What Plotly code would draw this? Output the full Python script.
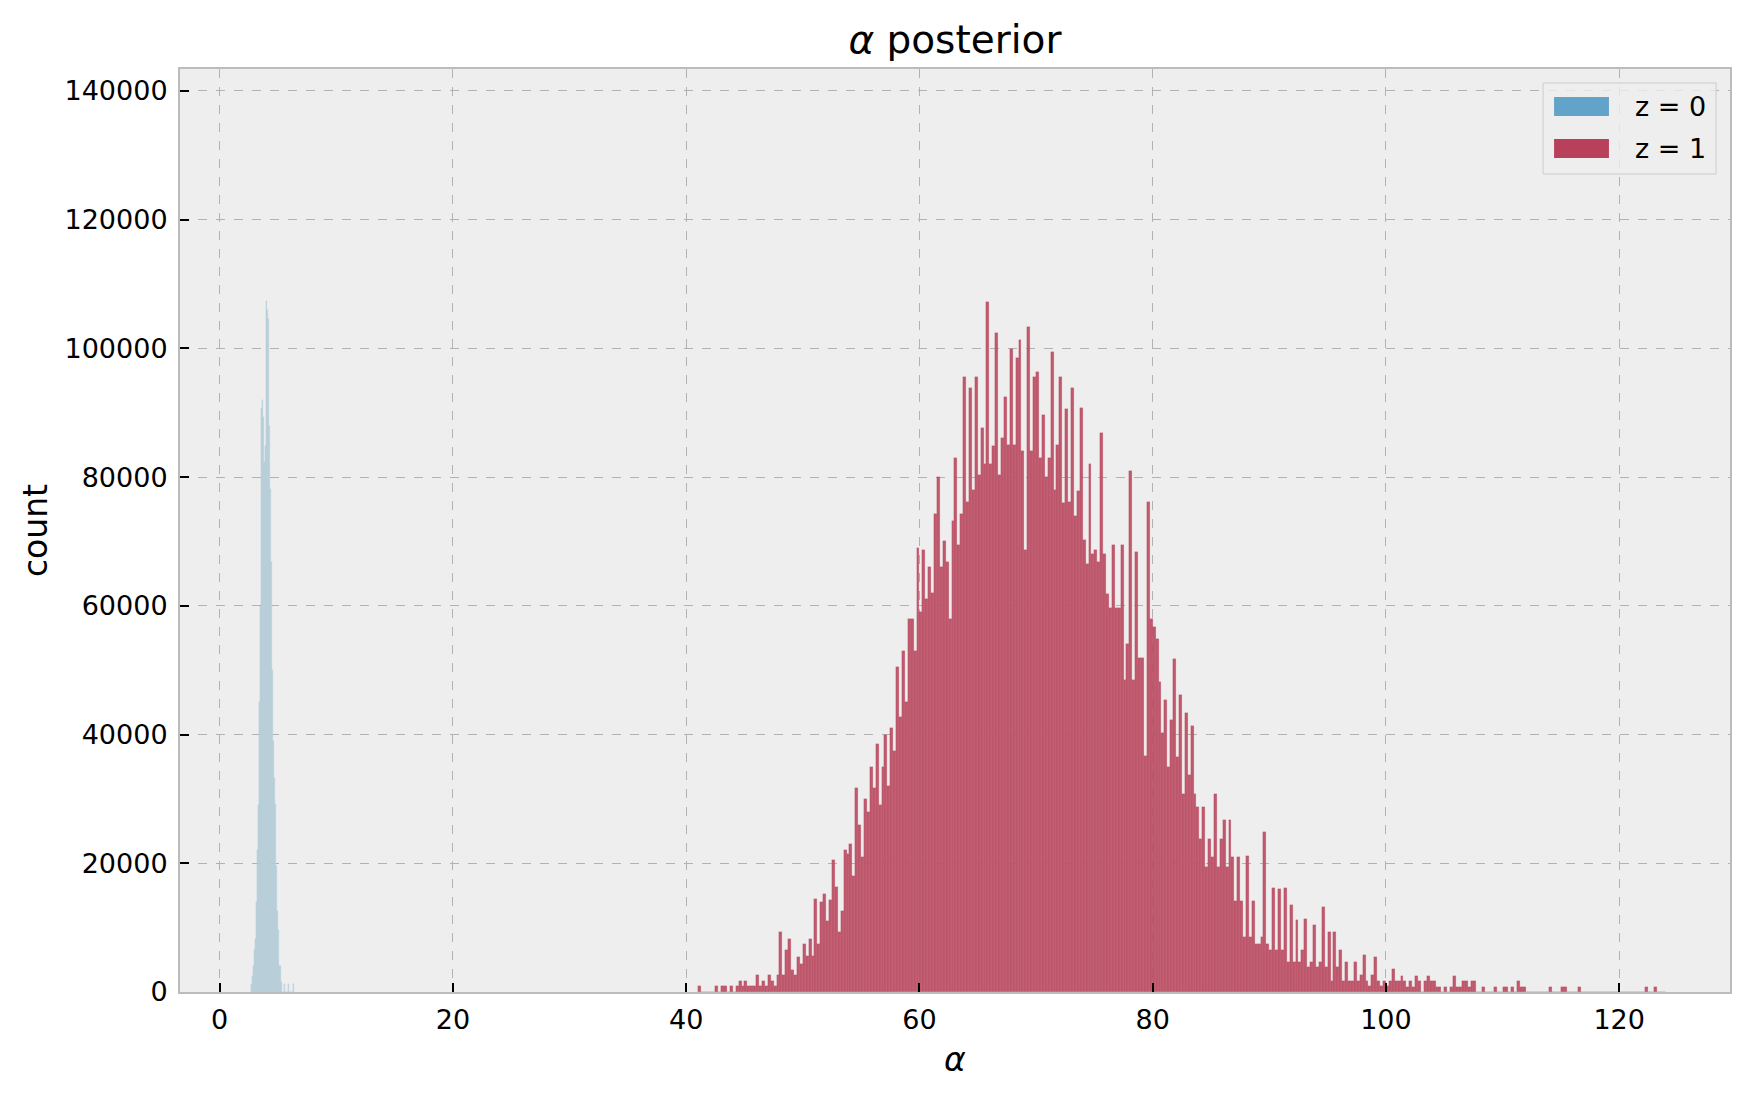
import plotly.graph_objects as go

# z = 0 : narrow histogram, bins of ~0.086 starting at 2.65
blue_bin_start = 2.65
blue_bin_width = 0.0858
blue_counts = [
    1200, 2500, 4000, 6500, 8300, 14000, 22000, 29000, 45000, 60000,
    90700, 92000, 89400, 82400, 84900, 107400, 106000, 104600, 88000, 78200,
    66800, 50100, 39000, 33300, 29200, 19500, 12600, 9700, 4000, 4000,
    1600, 0, 0, 1200, 0, 0, 0, 1200, 0, 0,
    0, 0, 1200,
]

# z = 1 : wide histogram, bins of 0.25 starting at 41.0 (one row = one unit)
red_bin_start = 41.0
red_bin_width = 0.25
red_counts = [
    900, 0, 0, 0,             # 41
    0, 0, 900, 0,             # 42
    900, 900, 0, 900,         # 43
    0, 900, 1700, 900,        # 44
    1700, 900, 900, 900,      # 45
    2600, 900, 1700, 900,     # 46
    2600, 1700, 900, 2600,    # 47
    9400, 2600, 6500, 8300,   # 48
    3400, 2600, 5500, 4300,   # 49
    7400, 5600, 8300, 5600,   # 50
    14500, 7400, 14000, 15300,   # 51
    11000, 14300, 20500, 16300,  # 52
    9300, 12600, 22000, 21500,   # 53
    23000, 18000, 31700, 26000,  # 54
    21000, 30000, 28000, 35000,  # 55
    31700, 38500, 29000, 35000,  # 56
    40000, 32000, 41000, 37500,  # 57
    50500, 42800, 53000, 45000,  # 58
    57900, 57900, 53000, 69000,  # 59
    59000, 68600, 61000, 66000,  # 60
    62000, 74300, 80000, 66000,  # 61
    70000, 66800, 58000, 73200,  # 62
    82900, 69400, 74300, 95500,  # 63
    76200, 93800, 78000, 95500,  # 64
    80300, 87700, 82000, 107200,  # 65
    82000, 84900, 102400, 80300,  # 66
    86000, 92500, 85000, 99900,   # 67
    85000, 98500, 101300, 84000,  # 68
    68600, 103300, 84000, 95500,  # 69
    96400, 83000, 89600, 80000,   # 70
    83000, 99400, 78000, 85000,   # 71
    95500, 76000, 90600, 76200,   # 72
    93800, 74000, 77800, 90700,   # 73
    70300, 66500, 82100, 68000,   # 74
    68600, 66800, 86800, 68000,   # 75
    61800, 59700, 69400, 59700,   # 76
    59700, 69400, 48400, 54000,   # 77
    81000, 48400, 68400, 51900,   # 78
    51900, 36700, 76200, 57900,   # 79
    56700, 54800, 48200, 40200,   # 80
    45300, 35000, 42200, 51800,   # 81
    36500, 46100, 30800, 43300,   # 82
    33700, 41300, 30800, 28800,   # 83
    23800, 28800, 19400, 23800,   # 84
    21000, 30800, 19400, 23800,   # 85
    26800, 19400, 26800, 21000,   # 86
    14200, 21000, 14200, 8500,    # 87
    21100, 8500, 14200, 7500,     # 88
    7500, 8500, 24900, 7500,      # 89
    6500, 16200, 6500, 16000,     # 90
    6500, 16200, 4700, 13500,     # 91
    4700, 11200, 4700, 6500,      # 92
    11400, 3900, 4700, 10400,     # 93
    3900, 4700, 13200, 3900,      # 94
    9400, 1700, 9400, 3900,       # 95
    6500, 1700, 4700, 1700,       # 96
    1700, 4700, 1700, 2600,       # 97
    5700, 1700, 900, 2600,        # 98
    5500, 1700, 900, 1700,        # 99
    900, 1700, 3600, 1700,        # 100
    1700, 2550, 1700, 850,        # 101
    1700, 850, 2550, 1700,        # 102
    0, 1700, 2550, 1700,          # 103
    1700, 850, 850, 0,            # 104
    850, 0, 850, 2550,            # 105
    850, 850, 1700, 1700,         # 106
    850, 1700, 1700, 0,           # 107
    0, 850, 0, 0,                 # 108
    0, 850, 0, 0,                 # 109
    850, 850, 0, 850,             # 110
    0, 1700, 850, 850,            # 111
    0, 0, 0, 0,                   # 112
    0, 0, 0, 0,                   # 113
    850, 0, 0, 0,                 # 114
    850, 850, 0, 0,               # 115
    0, 0, 850, 0,                 # 116
    0, 0, 0, 0,                   # 117
    0, 0, 0, 0,                   # 118
    0, 0, 0, 0,                   # 119
    0, 0, 0, 0,                   # 120
    0, 0, 0, 0,                   # 121
    0, 850, 0, 0,                 # 122
    850, 0, 0, 0,                 # 123
]

series_names = ["z = 0", "z = 1"]
series_colors = ["#62a3c9", "#b8405a"]   # legend patches (bmh blue / red, alpha .75)
x_ticks = [0, 20, 40, 60, 80, 100, 120]
y_ticks = [0, 20000, 40000, 60000, 80000, 100000, 120000, 140000]

blue_x = [blue_bin_start + blue_bin_width * (i + 0.5) for i in range(len(blue_counts))]
red_x = [red_bin_start + red_bin_width * (i + 0.5) for i in range(len(red_counts))]

FONT = "DejaVu Sans"
fig = go.Figure()
fig.add_trace(go.Bar(
    x=blue_x, y=blue_counts, width=blue_bin_width, name=series_names[0],
    marker=dict(color="#cad8e0", line=dict(color="rgba(52,138,189,0.35)", width=0.25)),
    showlegend=False,
))
fig.add_trace(go.Bar(
    x=red_x, y=red_counts, width=red_bin_width, name=series_names[1],
    marker=dict(color="#bf5a6e", line=dict(color="rgba(166,6,40,0.3)", width=0.4)),
    showlegend=False,
))

# legend drawn by hand so the patches get matplotlib's wide rectangles
fig.add_shape(type="rect", xref="paper", yref="paper", x0=0.8794, x1=0.9910, y0=0.8862, y1=0.9848,
              fillcolor="rgba(238,238,238,0.8)", line=dict(color="#cccccc", width=1), layer="above")
for name, color, yc in zip(series_names, series_colors, [0.9594, 0.9139]):
    fig.add_shape(type="rect", xref="paper", yref="paper", x0=0.8865, x1=0.9219,
                  y0=yc - 0.0103, y1=yc + 0.0103, fillcolor=color, line=dict(width=0), layer="above")
    fig.add_annotation(text=name, xref="paper", yref="paper", x=0.9374, y=yc,
                       xanchor="left", yanchor="middle", showarrow=False,
                       font=dict(size=27, family=FONT, color="black"))

axis_common = dict(
    showgrid=True, gridcolor="#b2b2b2", griddash="dash", gridwidth=1,
    showline=True, linecolor="#bcbcbc", linewidth=2, mirror=True,
    ticks="inside", ticklen=9, tickwidth=2, tickcolor="black",
    tickfont=dict(family=FONT, size=27, color="black"),
    zeroline=False, automargin=False,
)

fig.update_layout(
    width=1742, height=1087,
    margin=dict(l=172, r=20, t=61, b=103, autoexpand=False),
    paper_bgcolor="white", plot_bgcolor="#eeeeee",
    barmode="overlay", bargap=0,
    font=dict(family=FONT, color="black"),
    title=dict(text="<i>α</i> posterior", x=0.5436, xanchor="center",
               y=0.9715, yanchor="middle", font=dict(size=39, family=FONT)),
    xaxis=dict(axis_common, range=[-3.4, 129.5], tickvals=x_ticks,
               ticklabelstandoff=3,
               title=dict(text="<i>α</i>", standoff=13, font=dict(size=33, family=FONT))),
    yaxis=dict(axis_common, range=[0, 143400], tickvals=y_ticks, tickformat="d",
               ticklabelstandoff=5,
               title=dict(text="count", standoff=7, font=dict(size=33, family=FONT))),
    showlegend=False,
)

fig.write_html("out.html")
